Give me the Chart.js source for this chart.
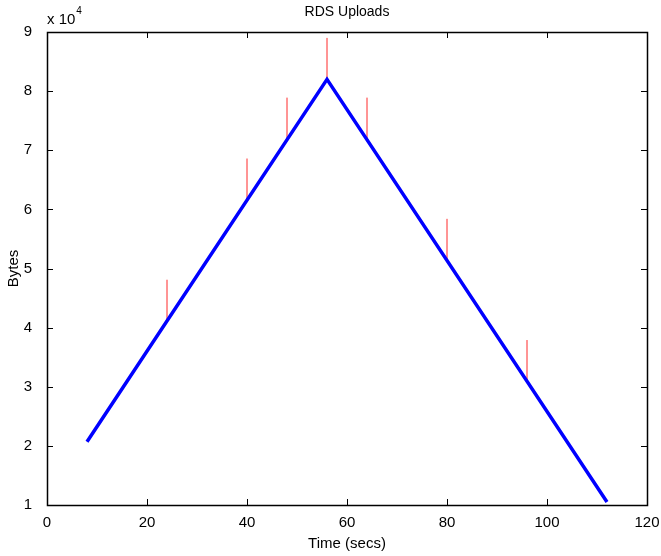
<!DOCTYPE html>
<html>
<head>
<meta charset="utf-8">
<script src="https://cdn.jsdelivr.net/npm/chart.js@4"></script>
<style>
  html, body { margin: 0; padding: 0; background: #fff; }
  #wrap { width: 661px; height: 556px; }
</style>
</head>
<body>
<div id="wrap"><canvas id="c" width="661" height="556"></canvas></div>
<script>
// blue line: uploads over time
const lineTimes = [8, 56, 112]
const lineBytes = [20700, 82000, 10500]

// red spikes: start on the line, end at the top value
const spikeTimes = [24, 40, 48, 56, 64, 80, 96]
const spikeLow = [41100, 61600, 71800, 82000, 71800, 51400, 31000]
const spikeHigh = [48100, 68600, 78900, 89000, 78900, 58400, 37900]

const xTicks = [0, 20, 40, 60, 80, 100, 120]
const yTicks = [10000, 20000, 30000, 40000, 50000, 60000, 70000, 80000, 90000]

const FONT = 'Liberation Sans, Arial, Helvetica, sans-serif'

const datasets = [{
  data: lineTimes.map((t, i) => ({ x: t, y: lineBytes[i] })),
  borderColor: '#0000ff',
  borderWidth: 3.5,
  pointRadius: 0,
  order: 1
}]
spikeTimes.forEach((t, i) => {
  datasets.push({
    data: [{ x: t, y: spikeLow[i] }, { x: t, y: spikeHigh[i] }],
    borderColor: '#ff2a2a',
    borderWidth: 1,
    pointRadius: 0,
    order: 2
  })
})

// matlab style box, inward ticks, title and exponent label
const matlabFrame = {
  id: 'matlabFrame',
  afterDraw(chart) {
    const ctx = chart.ctx
    const a = chart.chartArea
    const xs = chart.scales.x, ys = chart.scales.y
    ctx.save()
    ctx.strokeStyle = '#000'
    ctx.lineWidth = 1.5
    ctx.strokeRect(Math.round(a.left) + 0.5, Math.round(a.top) + 0.5,
      Math.round(a.right - a.left), Math.round(a.bottom - a.top))
    ctx.lineWidth = 1
    ctx.beginPath()
    xTicks.forEach(v => {
      const px = Math.round(xs.getPixelForValue(v)) + 0.5
      ctx.moveTo(px, a.bottom); ctx.lineTo(px, a.bottom - 6)
      ctx.moveTo(px, a.top); ctx.lineTo(px, a.top + 6)
    })
    yTicks.forEach(v => {
      const py = Math.round(ys.getPixelForValue(v)) + 0.5
      ctx.moveTo(a.left, py); ctx.lineTo(a.left + 6, py)
      ctx.moveTo(a.right, py); ctx.lineTo(a.right - 6, py)
    })
    ctx.stroke()

    ctx.fillStyle = '#000'
    ctx.font = '14px ' + FONT
    ctx.textAlign = 'center'
    ctx.textBaseline = 'middle'
    ctx.fillText('RDS Uploads', (a.left + a.right) / 2, 12)

    ctx.textAlign = 'left'
    ctx.textBaseline = 'alphabetic'
    ctx.font = '15px ' + FONT
    ctx.fillText('x 10', 47, 24)
    const w = ctx.measureText('x 10').width
    ctx.font = '10px ' + FONT
    ctx.fillText('4', 47 + w + 1, 14)
    ctx.restore()
  }
}

new Chart(document.getElementById('c'), {
  type: 'line',
  data: { datasets },
  options: {
    responsive: false,
    animation: false,
    layout: { padding: { top: 32, right: 14, left: 0, bottom: 0 } },
    plugins: { legend: { display: false }, tooltip: { enabled: false } },
    scales: {
      x: {
        type: 'linear',
        min: 0, max: 120,
        afterBuildTicks: s => { s.ticks = xTicks.map(v => ({ value: v })) },
        afterFit: s => { s.height = 51 },
        grid: { display: false },
        border: { display: false },
        ticks: { color: '#000', font: { family: FONT, size: 15 }, padding: 1, maxRotation: 0 },
        title: { display: true, text: 'Time (secs)', color: '#000', font: { family: FONT, size: 15 }, padding: { top: 0, bottom: 3 } }
      },
      y: {
        type: 'linear',
        min: 10000, max: 90000,
        afterBuildTicks: s => { s.ticks = yTicks.map(v => ({ value: v })) },
        afterFit: s => { s.width = 47 },
        grid: { display: false },
        border: { display: false },
        ticks: { color: '#000', font: { family: FONT, size: 15 }, padding: 7, callback: v => v / 10000 },
        title: { display: true, text: 'Bytes', color: '#000', font: { family: FONT, size: 15 }, padding: { top: 5, bottom: 0 } }
      }
    }
  },
  plugins: [matlabFrame]
})
</script>
</body>
</html>
